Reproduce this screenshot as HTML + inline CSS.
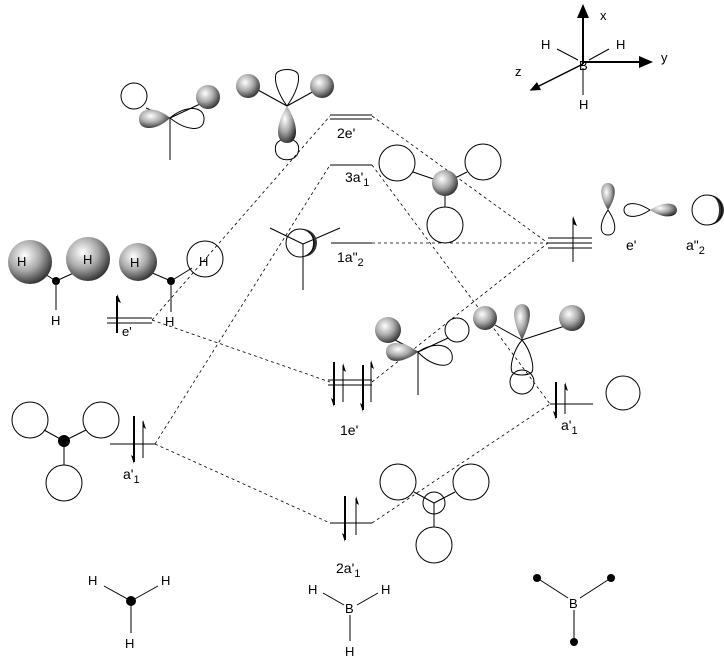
<!DOCTYPE html>
<html><head><meta charset="utf-8"><style>
html,body{margin:0;padding:0;background:#fff;}
svg{display:block;}
text{font-family:"Liberation Sans",sans-serif;font-size:14px;fill:#000;}
.t{font-size:13px;}
</style></head><body>
<svg width="724" height="659" viewBox="0 0 724 659" xmlns="http://www.w3.org/2000/svg">
<defs>
<radialGradient id="g" cx="0.38" cy="0.35" r="0.7">
<stop offset="0" stop-color="#ffffff"/><stop offset="0.5" stop-color="#aaaaaa"/><stop offset="1" stop-color="#2a2a2a"/>
</radialGradient>
<marker id="ah" markerWidth="8" markerHeight="8" refX="6" refY="3" orient="auto"><path d="M0,0 L7,3 L0,6 z" fill="#000"/></marker>
</defs>
<g stroke="#000" fill="none" stroke-width="1">
<g stroke-dasharray="3,3" stroke-width="0.8">
<line x1="152" y1="320" x2="330" y2="116"/>
<line x1="152" y1="320" x2="330" y2="382"/>
<line x1="155" y1="444" x2="330" y2="165"/>
<line x1="155" y1="444" x2="330" y2="523"/>
<line x1="372" y1="116" x2="548" y2="243"/>
<line x1="372" y1="165" x2="550" y2="404"/>
<line x1="372" y1="243" x2="548" y2="243"/>
<line x1="372" y1="382" x2="548" y2="243"/>
<line x1="372" y1="523" x2="550" y2="404"/>
</g>
<line x1="330" y1="115" x2="372" y2="115"/><line x1="330" y1="119" x2="372" y2="119"/>
<line x1="330" y1="165" x2="372" y2="165"/>
<line x1="331" y1="243" x2="372" y2="243"/>
<line x1="328" y1="380" x2="372" y2="380"/><line x1="328" y1="385" x2="372" y2="385"/>
<line x1="330" y1="523" x2="372" y2="523"/>
<line x1="107" y1="318" x2="152" y2="318"/><line x1="107" y1="323" x2="152" y2="323"/>
<line x1="110" y1="444" x2="155" y2="444"/>
<line x1="548" y1="238" x2="592" y2="238"/><line x1="548" y1="243" x2="592" y2="243"/><line x1="548" y1="248" x2="592" y2="248"/>
<line x1="550" y1="404" x2="593" y2="404"/>
<g stroke-width="2">
<line x1="117" y1="333" x2="117" y2="296"/>
<line x1="134" y1="416" x2="134" y2="462"/><line x1="143" y1="421" x2="143" y2="458" stroke-width="1"/>
<line x1="334" y1="362" x2="334" y2="405"/><line x1="343" y1="365" x2="343" y2="402" stroke-width="1"/>
<line x1="363" y1="365" x2="363" y2="410"/><line x1="371" y1="362" x2="371" y2="402" stroke-width="1"/>
<line x1="345" y1="496" x2="345" y2="540"/><line x1="356" y1="498" x2="356" y2="535" stroke-width="1"/>
<line x1="573" y1="218" x2="573" y2="262" stroke-width="1"/>
<line x1="556" y1="382" x2="556" y2="418"/><line x1="565" y1="384" x2="565" y2="414" stroke-width="1"/>
</g>
<g fill="#000" stroke="none">
<path d="M117,294 l4,9 l-4,-2z"/>
<path d="M143,420 l3,9 l-3,-2z"/><path d="M134,464 l-3,-9 l3,2z"/>
<path d="M343,363 l3,9 l-3,-2z"/><path d="M371,360 l3,9 l-3,-2z"/>
<path d="M334,407 l-3,-9 l3,2z"/><path d="M363,412 l-3,-9 l3,2z"/>
<path d="M356,496 l3,9 l-3,-2z"/><path d="M345,542 l-3,-9 l3,2z"/>
<path d="M573,216 l4,10 l-4,-2z"/>
<path d="M565,382 l3,9 l-3,-2z"/><path d="M556,420 l-3,-9 l3,2z"/>
</g>
<line x1="583" y1="64" x2="583" y2="6" stroke-width="2" marker-end="url(#ah)"/>
<line x1="583" y1="62" x2="651" y2="62" stroke-width="2" marker-end="url(#ah)"/>
<line x1="583" y1="64" x2="531" y2="90" stroke-width="1.5" marker-end="url(#ah)"/>
<line x1="557" y1="49" x2="578" y2="60"/><line x1="609" y1="49" x2="589" y2="60"/><line x1="583" y1="68" x2="583" y2="95"/>
<line x1="40" y1="271" x2="56" y2="281"/><line x1="78" y1="271" x2="56" y2="281"/><line x1="56" y1="281" x2="56" y2="310"/>
<line x1="150" y1="272" x2="171" y2="281"/><line x1="192" y1="268" x2="171" y2="281"/><line x1="171" y1="281" x2="171" y2="312"/>
<circle cx="205" cy="259" r="18"/>
<circle cx="134" cy="96" r="13"/>
<line x1="146" y1="108" x2="170" y2="118"/><line x1="170" y1="118" x2="200" y2="104"/><line x1="170" y1="118" x2="170" y2="160"/>
<path d="M170,118 C185,105 205,105 204,120 C203,133 185,130 170,118z"/>
<line x1="258" y1="90" x2="287" y2="106"/><line x1="316" y1="90" x2="287" y2="106"/>
<path d="M287,106 C277,92 274,80 276,74 C279,68 295,68 298,74 C300,80 297,92 287,106z"/>
<path d="M287,138 C276,140 274,146 276,153 C279,162 295,162 298,153 C300,146 298,140 287,138z"/>
<line x1="270" y1="228" x2="303" y2="244"/><line x1="340" y1="228" x2="303" y2="244"/><line x1="303" y1="244" x2="303" y2="290"/>
<line x1="413" y1="172" x2="445" y2="183"/><line x1="467" y1="172" x2="445" y2="183"/><line x1="445" y1="183" x2="445" y2="207"/>
<circle cx="397" cy="163" r="18"/><circle cx="483" cy="162" r="18"/><circle cx="445" cy="225" r="18"/>
<line x1="395" y1="340" x2="418" y2="352"/><line x1="418" y1="352" x2="448" y2="338"/><line x1="418" y1="352" x2="418" y2="395"/>
<circle cx="457" cy="330" r="12"/>
<path d="M418,352 C435,340 455,345 452,360 C448,370 430,365 418,352z"/>
<line x1="495" y1="325" x2="522" y2="340"/><line x1="568" y1="325" x2="522" y2="340"/>
<path d="M522,340 C512,352 510,368 512,372 C516,376 528,376 532,372 C534,368 532,352 522,340z"/>
<circle cx="522" cy="382" r="12"/>
<circle cx="623" cy="393" r="17"/>
<line x1="44" y1="430" x2="64" y2="441"/><line x1="86" y1="430" x2="64" y2="441"/><line x1="64" y1="441" x2="64" y2="465"/>
<circle cx="30" cy="420" r="18"/><circle cx="101" cy="420" r="18"/><circle cx="64" cy="483" r="18"/>
<line x1="414" y1="492" x2="434" y2="503"/><line x1="455" y1="492" x2="434" y2="503"/><line x1="434" y1="503" x2="434" y2="527"/>
<circle cx="434" cy="503" r="11"/><circle cx="398" cy="482" r="18"/><circle cx="471" cy="482" r="18"/><circle cx="434" cy="545" r="18"/>
<path d="M608,210 C598,225 600,235 608,235 C616,235 618,225 608,210z"/>
<path d="M650,210 C635,200 624,203 624,210 C624,217 635,220 650,210z"/>
<line x1="104" y1="586" x2="131" y2="601"/><line x1="158" y1="586" x2="131" y2="601"/><line x1="131" y1="601" x2="131" y2="633"/>
<line x1="323" y1="593" x2="344" y2="605"/><line x1="378" y1="593" x2="357" y2="605"/><line x1="350" y1="615" x2="350" y2="641"/>
<line x1="537" y1="578" x2="568" y2="598"/><line x1="611" y1="578" x2="580" y2="598"/><line x1="574" y1="610" x2="574" y2="642"/>
</g>
<g fill="url(#g)" stroke="none">
<circle cx="30" cy="262" r="22"/><circle cx="88" cy="259" r="22"/><circle cx="138" cy="262" r="19"/>
<circle cx="208" cy="97" r="12"/>
<path d="M170,118 C155,105 138,108 139,120 C140,132 158,130 170,118z"/>
<circle cx="248" cy="86" r="12"/><circle cx="322" cy="86" r="12"/>
<path d="M287,106 C275,125 275,143 287,143 C299,143 299,125 287,106z"/>
<circle cx="445" cy="183" r="13"/>
<circle cx="388" cy="330" r="13"/>
<path d="M418,352 C400,338 385,342 386,352 C387,364 402,364 418,352z"/>
<circle cx="485" cy="318" r="12"/><circle cx="572" cy="318" r="13"/>
<path d="M522,340 C512,320 511,305 522,304 C533,305 532,320 522,340z"/>
<path d="M608,210 C598,195 600,183 608,183 C616,183 618,195 608,210z"/>
<path d="M650,210 C665,200 677,203 677,210 C677,217 665,220 650,210z"/>
</g>
<path d="M303,229 A14,14 0 0 1 303,257 A10,14 0 0 0 303,229z" fill="#333"/>
<circle cx="300" cy="243" r="14" fill="none" stroke="#000"/>
<path d="M709,195 A15,15 0 0 1 709,225 A10,15 0 0 0 709,195z" fill="#333"/>
<circle cx="707" cy="210" r="15" fill="none" stroke="#000"/>
<g fill="#000">
<circle cx="56" cy="281" r="4"/><circle cx="171" cy="281" r="4"/><circle cx="64" cy="441" r="6"/>
<circle cx="131" cy="601" r="5"/><circle cx="537" cy="578" r="4"/><circle cx="611" cy="578" r="4"/><circle cx="574" cy="642" r="4"/>
</g>
<text x="600" y="20" class="t">x</text><text x="661" y="62" class="t">y</text><text x="515" y="76" class="t">z</text>
<text x="541" y="49" class="t">H</text><text x="616" y="49" class="t">H</text><text x="579" y="70" class="t">B</text><text x="579" y="109" class="t">H</text>
<text x="17" y="266" class="t">H</text><text x="83" y="264" class="t">H</text><text x="130" y="267" class="t">H</text><text x="199" y="266" class="t">H</text>
<text x="51" y="325" class="t">H</text><text x="165" y="326" class="t">H</text>
<text x="122" y="336" class="t">e'</text>
<text x="337" y="138">2e'</text>
<text x="345" y="182">3a'<tspan font-size="11" dy="4">1</tspan></text>
<text x="337" y="262">1a"<tspan font-size="11" dy="4">2</tspan></text>
<text x="340" y="435">1e'</text>
<text x="123" y="479">a'<tspan font-size="11" dy="4">1</tspan></text>
<text x="336" y="573">2a'<tspan font-size="11" dy="4">1</tspan></text>
<text x="626" y="250">e'</text>
<text x="686" y="250">a"<tspan font-size="11" dy="4">2</tspan></text>
<text x="561" y="430">a'<tspan font-size="11" dy="4">1</tspan></text>
<text x="88" y="585" class="t">H</text><text x="161" y="585" class="t">H</text><text x="125" y="648" class="t">H</text>
<text x="308" y="594" class="t">H</text><text x="381" y="594" class="t">H</text><text x="345" y="613" class="t">B</text><text x="345" y="656" class="t">H</text>
<text x="569" y="608" class="t">B</text>
</svg>
</body></html>
